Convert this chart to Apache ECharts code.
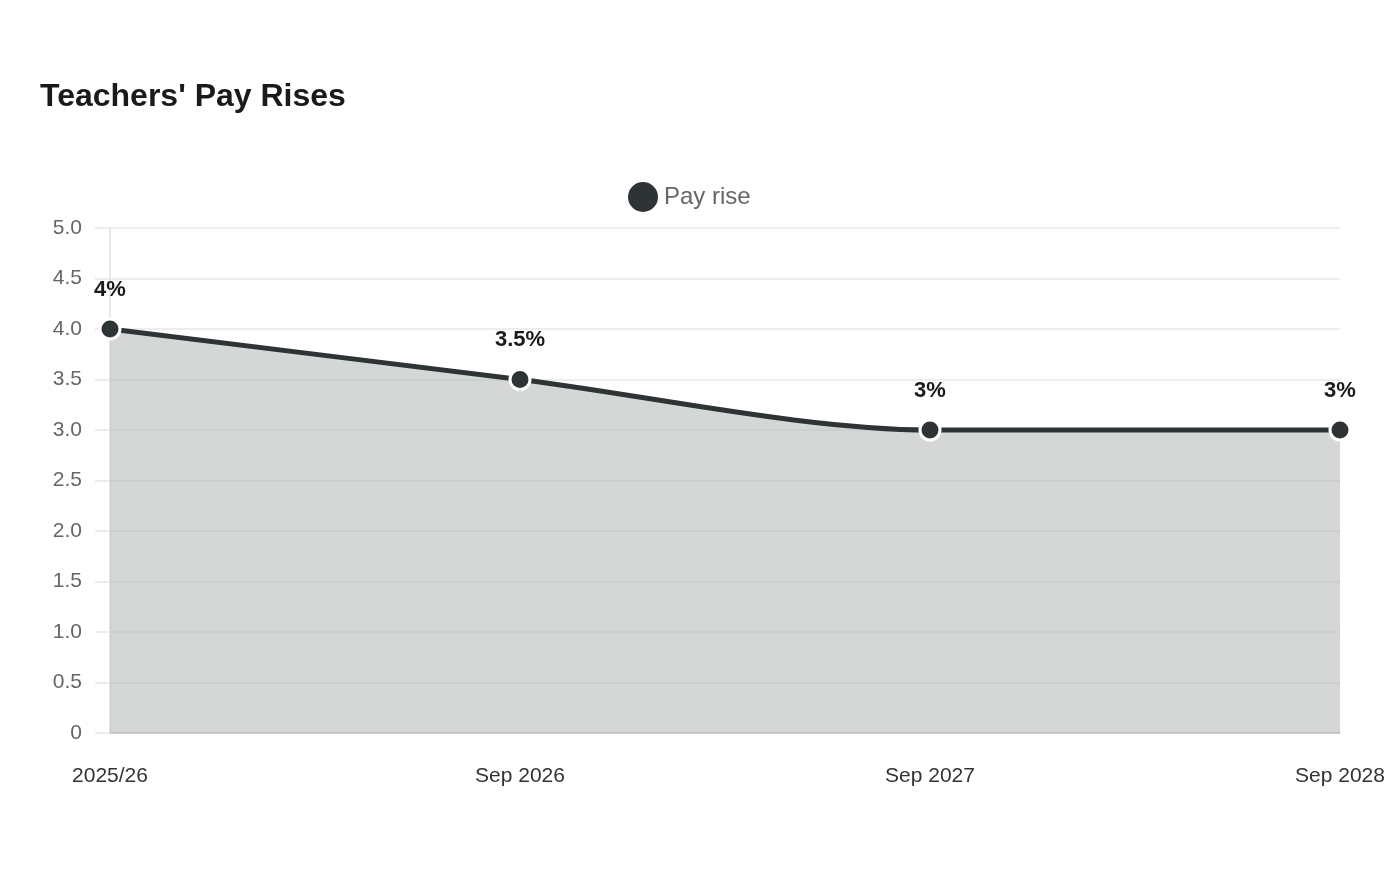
<!DOCTYPE html>
<html><head><meta charset="utf-8">
<script src="https://cdn.jsdelivr.net/npm/echarts@6/dist/echarts.min.js"></script>
<style>html,body{margin:0;padding:0;background:#fff}#c{width:1400px;height:880px}</style>
</head><body><div id="c"></div>
<script>
const categories = ['2025/26', 'Sep 2026', 'Sep 2027', 'Sep 2028'];
const payRise = [4, 3.5, 3, 3];
const seriesName = 'Pay rise';
const titleText = "Teachers' Pay Rises";

const FONT = 'Liberation Sans, Arial, sans-serif';
const chart = echarts.init(document.getElementById('c'));
chart.setOption({
  animation: false,
  textStyle: { fontFamily: FONT },
  title: {
    text: titleText, left: 35, top: 76,
    textStyle: { fontSize: 32, fontWeight: 'bold', color: '#1a1a1a', fontFamily: FONT }
  },
  legend: {
    top: 175, left: 621, itemWidth: 32, itemHeight: 32, itemGap: 10,
    icon: 'circle',
    textStyle: { fontSize: 24, color: '#666', fontFamily: FONT },
    data: [seriesName]
  },
  grid: { left: 110, right: 60, top: 228, bottom: 147, containLabel: false },
  xAxis: {
    type: 'category', data: categories, boundaryGap: false,
    axisLine: { lineStyle: { color: '#c4c6c5', width: 1.5 } },
    axisTick: { show: false },
    axisLabel: { fontSize: 21, color: '#333', margin: 33, fontFamily: FONT },
    splitLine: { show: false }
  },
  yAxis: {
    type: 'value', min: 0, max: 5, interval: 0.5,
    axisLine: { show: true, lineStyle: { color: '#e0e0e0', width: 1.5 } },
    axisTick: { show: true, length: 15, lineStyle: { color: '#e8e8e8', width: 1.5 } },
    axisLabel: { fontSize: 21, color: '#666', margin: 28,
      formatter: v => v === 0 ? '0' : v.toFixed(1),
      fontFamily: FONT },
    splitLine: { lineStyle: { color: '#e8e8e8', width: 1.5 } }
  },
  series: [{
    name: seriesName, type: 'line', data: payRise, smooth: 0.3,
    symbol: 'circle', symbolSize: 20,
    lineStyle: { color: '#2e3436', width: 5 },
    itemStyle: { color: '#2e3436', borderColor: '#fff', borderWidth: 3 },
    areaStyle: { color: 'rgba(171,175,173,0.5)', opacity: 1 },
    label: { show: true, position: 'top', distance: 17, formatter: p => p.value + '%',
      fontSize: 22, fontWeight: 'bold', color: '#1a1a1a', fontFamily: FONT },
    z: 3
  }]
});
</script></body></html>
